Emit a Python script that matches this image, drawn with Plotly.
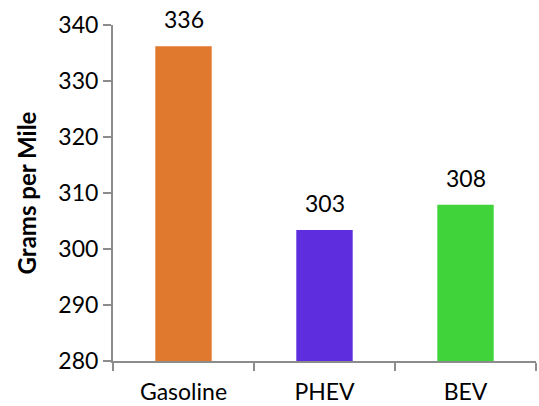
import plotly.graph_objects as go

# Emissions per mile by vehicle type
categories = ["Gasoline", "PHEV", "BEV"]
grams_per_mile = [336.2, 303.4, 307.9]
bar_colors = ["#E0782D", "#5E2DDE", "#40D43A"]
y_ticks = [280, 290, 300, 310, 320, 330, 340]

FONT = "Lato"
AXIS_GRAY = "#8C8C8C"

fig = go.Figure(
    go.Bar(
        x=categories,
        y=grams_per_mile,
        marker=dict(color=bar_colors, line=dict(width=0)),
        width=0.4,
        hoverinfo="skip",
    )
)

# Value labels above each bar
for cat, val in zip(categories, grams_per_mile):
    fig.add_annotation(
        x=cat, y=val, text=f"{val:.0f}", showarrow=False,
        yanchor="middle", yshift=27,
        font=dict(family=FONT, size=23, color="#000000"),
    )

fig.update_layout(
    width=539, height=406,
    margin=dict(l=113, r=3, t=25, b=45),
    paper_bgcolor="white", plot_bgcolor="white",
    showlegend=False,
    font=dict(family=FONT, color="#000000"),
    bargap=0.6,
)

fig.update_xaxes(
    showline=True, linecolor=AXIS_GRAY, linewidth=2,
    ticks="outside", tickson="boundaries", ticklen=8, tickcolor=AXIS_GRAY, tickwidth=2,
    tickfont=dict(family=FONT, size=23, color="#000000"),
    ticklabelstandoff=9,
    showgrid=False, zeroline=False, automargin=False,
)

fig.update_yaxes(
    range=[280, 340], tickvals=y_ticks,
    showline=True, linecolor=AXIS_GRAY, linewidth=2,
    ticks="outside", ticklen=8, tickcolor=AXIS_GRAY, tickwidth=2,
    tickfont=dict(family=FONT, size=23, color="#000000"),
    showgrid=False, zeroline=False, automargin=False,
    title=dict(text="<b>Grams per Mile</b>", font=dict(family=FONT, size=24, color="#000000"), standoff=15),
)

fig.write_html("out.html")
